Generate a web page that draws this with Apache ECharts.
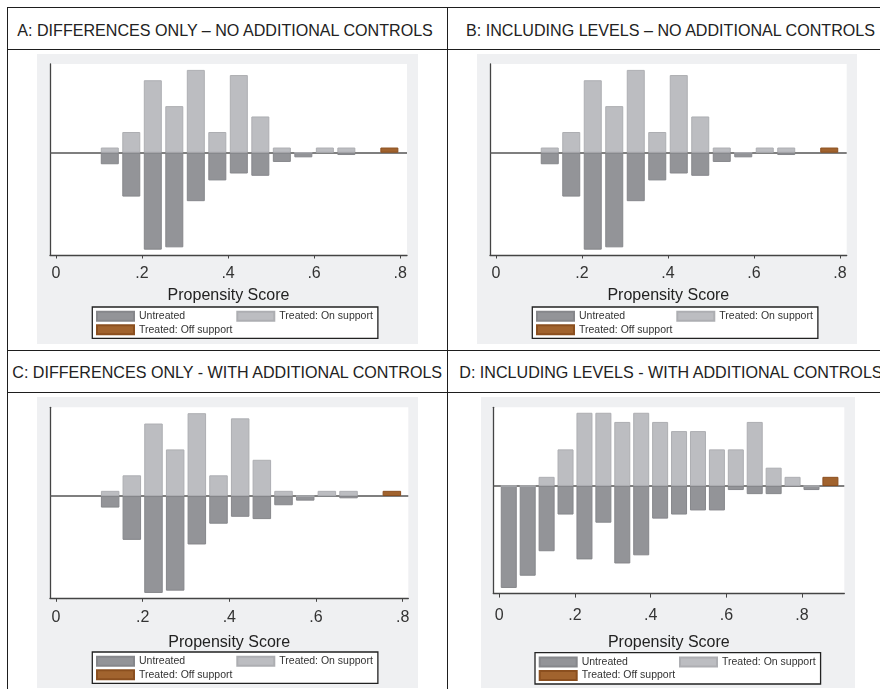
<!DOCTYPE html>
<html>
<head>
<meta charset="utf-8">
<script src="https://cdn.jsdelivr.net/npm/echarts@6/dist/echarts.min.js"></script>
<style>
  body { margin: 0; width: 880px; height: 689px; overflow: hidden; position: relative; background: #fff;
         font-family: 'Liberation Sans', Arial, sans-serif; }
  .hl { position: absolute; left: 7px; right: 0; height: 1px; background: #1e1e1e; }
  .vl { position: absolute; top: 7px; bottom: 0; width: 1px; background: #1e1e1e; }
  .cell { position: absolute; overflow: hidden; height: 41px; }
  .ttl { position: absolute; white-space: nowrap; font-size: 16.1px; line-height: 16px; color: #222; }
  .chart { position: absolute; }
</style>
</head>
<body>
<div class="hl" style="top:7px"></div>
<div class="hl" style="top:49px"></div>
<div class="hl" style="top:350px"></div>
<div class="hl" style="top:392px"></div>
<div class="vl" style="left:7px"></div>
<div class="vl" style="left:447px"></div>

<div class="cell" style="left:8px;top:8px;width:439px"><div class="ttl" style="left:9.3px;top:13.5px">A: DIFFERENCES ONLY – NO ADDITIONAL CONTROLS</div></div>
<div class="cell" style="left:448px;top:8px;width:432px"><div class="ttl" style="left:18px;top:13.5px">B: INCLUDING LEVELS – NO ADDITIONAL CONTROLS</div></div>
<div class="cell" style="left:8px;top:351px;width:439px"><div class="ttl" style="left:4.3px;top:12.8px">C: DIFFERENCES ONLY - WITH ADDITIONAL CONTROLS</div></div>
<div class="cell" style="left:448px;top:351px;width:432px"><div class="ttl" style="left:11.3px;top:12.8px">D: INCLUDING LEVELS - WITH ADDITIONAL CONTROLS</div></div>

<div id="pA" class="chart" style="left:37px;top:54px;width:381px;height:290px"></div>
<div id="pB" class="chart" style="left:477px;top:54px;width:380px;height:290px"></div>
<div id="pC" class="chart" style="left:37px;top:397px;width:381px;height:291px"></div>
<div id="pD" class="chart" style="left:481px;top:397px;width:374px;height:291px"></div>

<script>
// bin midpoints and counts per bin (panels A, B, C share the same histogram)
const binsABC = [0.125, 0.175, 0.225, 0.275, 0.325, 0.375, 0.425, 0.475, 0.525, 0.575, 0.625, 0.675];
const untreatedABC = [5, 19, 42, 41, 21, 12, 9, 10, 4, 2, 0, 1];
const treatedOnABC = [1, 4, 14, 9, 16, 4, 15, 7, 1, 0, 1, 1];
const offBinsABC = [0.775];
const treatedOffABC = [1];

// panel D
const binsD = [0.025, 0.075, 0.125, 0.175, 0.225, 0.275, 0.325, 0.375, 0.425, 0.475, 0.525, 0.575, 0.625, 0.675, 0.725, 0.775, 0.825];
const untreatedD = [25, 22, 16, 7, 18, 9, 19, 17, 8, 7, 6, 6, 1, 2, 2, 0, 1];
const treatedOnD = [0, 0, 1, 4, 8, 8, 7, 8, 7, 6, 6, 4, 4, 7, 2, 1, 0];
const offBinsD = [0.875];
const treatedOffD = [1];

const xTicks = [0, 0.2, 0.4, 0.6, 0.8];

const sum = a => a.reduce((s, v) => s + v, 0);

function pairs(bins, counts, total, sign) {
  return bins.map((b, i) => [b, sign * counts[i] / total]);
}

function draw(id, d, lay) {
  const nT = sum(d.on) + sum(d.off);
  const nU = sum(d.un);
  const chart = echarts.init(document.getElementById(id));
  const bar = (name, data, color, border) => ({
    name: name, type: 'bar', data: data, barWidth: lay.barW, barGap: '-100%',
    itemStyle: { color: color, borderColor: border, borderWidth: 1 },
    emphasis: { disabled: true }, animation: false
  });
  const sUn = bar('Untreated', pairs(d.bins, d.un, nU, -1), '#939498', '#86878b');
  sUn.markLine = {
    silent: true, symbol: 'none', z: 1, animation: false,
    label: { show: false },
    lineStyle: { color: '#555', width: 1.5, type: 'solid' },
    data: [{ yAxis: 0 }]
  };
  chart.setOption({
    backgroundColor: '#eff0f2',
    textStyle: { fontFamily: "'Liberation Sans', Arial, sans-serif" },
    grid: Object.assign({ show: true, backgroundColor: '#fff', borderWidth: 0 }, lay.grid),
    legend: {
      left: lay.legend[0], top: lay.legend[1], width: 300,
      orient: 'horizontal', itemGap: 1, itemWidth: 37, itemHeight: 9, icon: 'rect',
      padding: [3, 5, 2.3, 3.7],
      backgroundColor: '#fff', borderColor: '#222', borderWidth: 1.3, borderRadius: 0,
      selectedMode: false,
      textStyle: { fontSize: 10.5, lineHeight: 12.5, color: '#333' },
      data: [
        { name: 'Untreated', textStyle: { width: 96.3 } },
        'Treated: On support',
        'Treated: Off support'
      ]
    },
    xAxis: {
      type: 'value', min: lay.x[0], max: lay.x[1],
      name: 'Propensity Score', nameLocation: 'middle', nameGap: lay.nameGap,
      nameTextStyle: { fontSize: 16, color: '#222' },
      axisLine: { onZero: false, lineStyle: { color: '#444', width: 1.3 } },
      axisTick: { show: true, customValues: xTicks, length: lay.tickLen, lineStyle: { color: '#444' } },
      axisLabel: {
        customValues: xTicks, margin: lay.labelMargin, fontSize: 16, color: '#333',
        formatter: v => v === 0 ? '0' : v.toFixed(1).replace(/^0/, '')
      },
      splitLine: { show: false }
    },
    yAxis: {
      type: 'value', min: lay.y[0], max: lay.y[1],
      axisLine: { show: true, onZero: false, lineStyle: { color: '#444', width: 1.3 } },
      axisTick: { show: false }, axisLabel: { show: false }, splitLine: { show: false }
    },
    series: [
      sUn,
      bar('Treated: On support', pairs(d.bins, d.on, nT, 1), '#bcbdc1', '#adaeb2'),
      bar('Treated: Off support', pairs(d.offBins, d.off, nT, 1), '#a1632e', '#8b4f1f')
    ]
  });
}

const dataABC = { bins: binsABC, un: untreatedABC, on: treatedOnABC, offBins: offBinsABC, off: treatedOffABC };
const dataD = { bins: binsD, un: untreatedD, on: treatedOnD, offBins: offBinsD, off: treatedOffD };

draw('pA', dataABC, { grid: { left: 13, top: 10, right: 11, bottom: 89 }, x: [-0.014, 0.816], y: [-0.267, 0.2316],
  barW: 18, tickLen: 3.5, labelMargin: 11, nameGap: 33, legend: [55.3, 253] });
draw('pB', dataABC, { grid: { left: 13, top: 10, right: 10.3, bottom: 89 }, x: [-0.014, 0.8156], y: [-0.267, 0.2316],
  barW: 18, tickLen: 3.5, labelMargin: 11, nameGap: 33, legend: [55.3, 253] });
draw('pC', dataABC, { grid: { left: 13, top: 10.3, right: 9.7, bottom: 89.7 }, x: [-0.0138, 0.8129], y: [-0.267, 0.2316],
  barW: 18.5, tickLen: 3.5, labelMargin: 11, nameGap: 36, legend: [55.3, 255] });
draw('pD', dataD, { grid: { left: 12.3, top: 10.3, right: 10.7, bottom: 94.7 }, x: [-0.0159, 0.9117], y: [-0.1585, 0.1162],
  barW: 16, tickLen: 4.3, labelMargin: 14, nameGap: 41, legend: [54, 255.7] });
</script>
</body>
</html>
